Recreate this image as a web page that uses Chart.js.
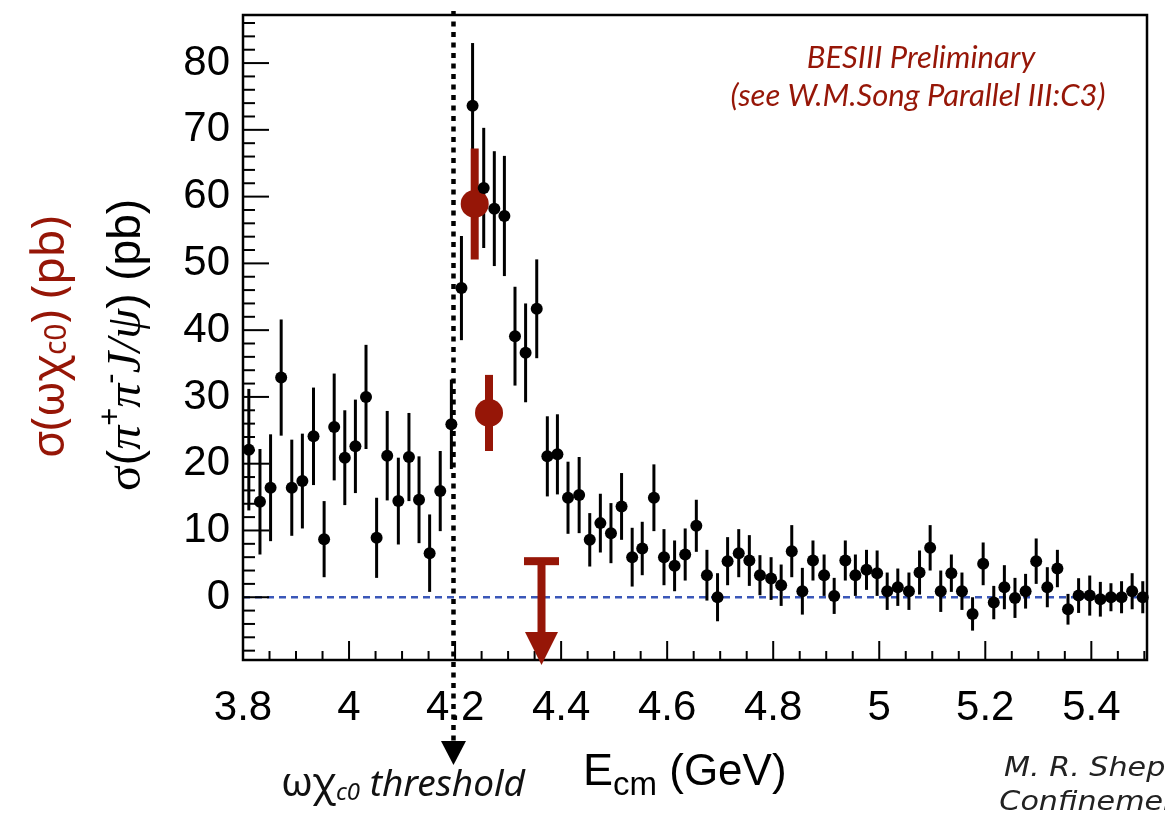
<!DOCTYPE html>
<html>
<head>
<meta charset="utf-8">
<script src="https://cdn.jsdelivr.net/npm/chart.js@4.4.1/dist/chart.umd.min.js"></script>
<style>
  html, body { margin: 0; padding: 0; background: #fff; }
  #wrap { width: 1165px; height: 816px; }
</style>
</head>
<body>
<div id="wrap"><canvas id="chart-xsec" width="1165" height="816"></canvas></div>
<script>
// sigma(e+e- -> pi+ pi- J/psi)
const energy = [3.811, 3.832, 3.852, 3.872, 3.892, 3.912, 3.933, 3.953, 3.972, 3.992,
  4.012, 4.032, 4.052, 4.072, 4.093, 4.113, 4.132, 4.152, 4.172, 4.193,
  4.212, 4.233, 4.254, 4.274, 4.293, 4.313, 4.333, 4.354, 4.374, 4.393,
  4.413, 4.434, 4.454, 4.474, 4.494, 4.514, 4.534, 4.553, 4.575, 4.594,
  4.614, 4.634, 4.655, 4.675, 4.695, 4.714, 4.735, 4.755, 4.775, 4.796,
  4.815, 4.835, 4.855, 4.875, 4.896, 4.915, 4.936, 4.955, 4.976, 4.996,
  5.015, 5.035, 5.056, 5.076, 5.096, 5.116, 5.136, 5.156, 5.176, 5.196,
  5.216, 5.236, 5.256, 5.276, 5.296, 5.317, 5.336, 5.356, 5.376, 5.397,
  5.417, 5.437, 5.457, 5.477, 5.497];
const sigmaPiPiJpsi = [22.1, 14.3, 16.4, 32.9, 16.4, 17.4, 24.1, 8.7, 25.5, 20.9,
  22.6, 30.0, 8.9, 21.2, 14.4, 21.0, 14.6, 6.6, 15.9, 25.9,
  46.3, 73.6, 61.3, 58.2, 57.1, 39.1, 36.6, 43.2, 21.1, 21.4,
  14.9, 15.3, 8.6, 11.1, 9.6, 13.6, 6.0, 7.3, 14.9, 6.0,
  4.7, 6.4, 10.7, 3.3, 0.0, 5.4, 6.6, 5.5, 3.3, 2.8,
  1.8, 6.9, 0.9, 5.5, 3.3, 0.2, 5.5, 3.3, 4.1, 3.6,
  0.9, 1.5, 0.9, 3.7, 7.4, 0.9, 3.6, 0.9, -2.5, 5.0,
  -0.8, 1.5, -0.1, 0.9, 5.4, 1.5, 4.3, -1.8, 0.25, 0.25,
  -0.3, 0.0, 0.0, 0.9, 0.0];
const sigmaPiPiJpsiErr = [9.1, 7.9, 8.0, 8.7, 7.2, 7.1, 7.3, 5.7, 8.0, 7.1,
  7.0, 7.8, 6.0, 6.7, 6.5, 6.6, 6.5, 5.8, 6.0, 6.7,
  7.8, 9.4, 9.0, 8.6, 9.0, 7.4, 7.4, 7.4, 6.0, 6.0,
  5.4, 5.7, 4.0, 4.4, 4.5, 5.0, 4.4, 4.0, 5.0, 4.2,
  3.8, 3.9, 3.9, 3.8, 3.6, 3.6, 3.6, 3.8, 3.0, 3.2,
  3.1, 3.9, 3.5, 3.0, 3.1, 2.7, 3.0, 3.1, 3.0, 3.4,
  2.8, 2.8, 2.8, 3.3, 3.4, 3.1, 2.8, 2.8, 2.5, 3.2,
  2.5, 3.3, 3.0, 2.6, 3.4, 3.0, 2.8, 2.3, 2.6, 3.0,
  2.6, 2.1, 2.4, 2.7, 2.4];

// sigma(omega chi_c0)
const omegaChiEnergy = [4.237, 4.264];
const omegaChiSigma = [58.9, 27.6];
const omegaChiErr = [8.3, 5.7];
const omegaChiLimitEnergy = 4.363;
const omegaChiLimit = 5.4;

const thresholdEnergy = 4.197;
const xTickValues = [3.8, 4, 4.2, 4.4, 4.6, 4.8, 5, 5.2, 5.4];
const yTickValues = [0, 10, 20, 30, 40, 50, 60, 70, 80];

const RED = '#961607';

const toPoints = (xs, ys) => xs.map((x, i) => ({ x: x, y: ys[i] }));

// vertical error bars
const errorBars = {
  id: 'errorBars',
  beforeDatasetsDraw(chart) {
    const ctx = chart.ctx;
    const y = chart.scales.y;
    chart.data.datasets.forEach((ds, i) => {
      if (!ds.errors) return;
      const meta = chart.getDatasetMeta(i);
      ctx.save();
      ctx.strokeStyle = ds.backgroundColor;
      ctx.lineWidth = ds.errorWidth;
      meta.data.forEach((pt, j) => {
        const v = ds.data[j].y, e = ds.errors[j];
        ctx.beginPath();
        ctx.moveTo(pt.x, y.getPixelForValue(v - e));
        ctx.lineTo(pt.x, y.getPixelForValue(v + e));
        ctx.stroke();
      });
      ctx.restore();
    });
  }
};

// ROOT style frame, inward ticks, zero line and threshold marker
const frame = {
  id: 'frame',
  beforeDatasetsDraw(chart) {
    const ctx = chart.ctx;
    const a = chart.chartArea;
    const x = chart.scales.x, y = chart.scales.y;
    ctx.save();
    // zero line
    ctx.strokeStyle = '#3a57b8';
    ctx.lineWidth = 2.5;
    ctx.setLineDash([7, 5]);
    ctx.beginPath();
    ctx.moveTo(a.left, y.getPixelForValue(0));
    ctx.lineTo(a.right, y.getPixelForValue(0));
    ctx.stroke();
    ctx.setLineDash([]);

    ctx.strokeStyle = '#000';
    ctx.lineWidth = 2;
    for (let i = 0; ; i++) {
      const v = 3.8 + i * 0.05;
      if (v > x.max) break;
      const px = x.getPixelForValue(v);
      const len = i % 4 === 0 ? 19 : 9;
      ctx.beginPath();
      ctx.moveTo(px, a.bottom);
      ctx.lineTo(px, a.bottom - len);
      ctx.stroke();
    }
    for (let v = -8; v <= y.max; v += 2) {
      const py = y.getPixelForValue(v);
      const len = v % 10 === 0 ? 26 : 12;
      ctx.beginPath();
      ctx.moveTo(a.left, py);
      ctx.lineTo(a.left + len, py);
      ctx.stroke();
    }
    ctx.lineWidth = 2.5;
    ctx.strokeRect(a.left, a.top, a.right - a.left, a.bottom - a.top);

    // threshold marker
    const tx = x.getPixelForValue(thresholdEnergy);
    ctx.lineWidth = 4.5;
    ctx.setLineDash([5, 5.5]);
    ctx.beginPath();
    ctx.moveTo(tx, 11);
    ctx.lineTo(tx, 742);
    ctx.stroke();
    ctx.setLineDash([]);
    ctx.fillStyle = '#000';
    ctx.beginPath();
    ctx.moveTo(tx - 12.5, 741);
    ctx.lineTo(tx + 12.5, 741);
    ctx.lineTo(tx, 765);
    ctx.closePath();
    ctx.fill();
    ctx.restore();
  },
  afterDatasetsDraw(chart) {
    // upper limit for omega chi_c0
    const ctx = chart.ctx;
    const a = chart.chartArea;
    const px = chart.scales.x.getPixelForValue(omegaChiLimitEnergy);
    const py = chart.scales.y.getPixelForValue(omegaChiLimit);
    const tip = a.bottom + 5;
    ctx.save();
    ctx.fillStyle = RED;
    ctx.fillRect(px - 17.5, py - 4, 35, 8);
    ctx.fillRect(px - 4, py, 8, tip - 32 - py);
    ctx.beginPath();
    ctx.moveTo(px - 16.5, tip - 33);
    ctx.lineTo(px + 16.5, tip - 33);
    ctx.lineTo(px, tip);
    ctx.closePath();
    ctx.fill();
    ctx.restore();
  }
};

function drawRich(ctx, parts, x, y, align) {
  let w = 0;
  parts.forEach(p => { ctx.font = p.font; p.w = ctx.measureText(p.t).width; w += p.w; });
  let cx = align === 'center' ? x - w / 2 : x;
  parts.forEach(p => {
    ctx.font = p.font;
    ctx.fillText(p.t, cx, y + (p.dy || 0));
    cx += p.w;
  });
}

const labels = {
  id: 'labels',
  afterDraw(chart) {
    const ctx = chart.ctx;
    ctx.save();
    ctx.textBaseline = 'alphabetic';
    ctx.textAlign = 'left';

    // x title
    ctx.fillStyle = '#000';
    drawRich(ctx, [
      { t: 'E', font: '45px "Liberation Sans"' },
      { t: 'cm', font: '33px "Liberation Sans"', dy: 10 },
      { t: ' (GeV)', font: '44px "Liberation Sans"' }
    ], 583, 785, 'left');

    // threshold label
    ctx.fillStyle = '#111';
    drawRich(ctx, [
      { t: 'ωχ', font: '40px "Noto Sans"' },
      { t: 'c0', font: 'italic 24px "Noto Sans"', dy: 4 },
      { t: ' threshold', font: 'italic 37px "Noto Sans"' }
    ], 281, 796, 'left');

    // preliminary note
    ctx.fillStyle = RED;
    ctx.textAlign = 'center';
    ctx.font = 'italic 31px Lato';
    ctx.fillText('BESIII Preliminary', 921, 68);
    ctx.fillText('(see W.M.Song Parallel III:C3)', 918, 106);

    // footer
    ctx.textAlign = 'left';
    ctx.fillStyle = '#222';
    ctx.font = 'italic 26px "DejaVu Sans"';
    ctx.save();
    ctx.translate(1004, 0);
    ctx.scale(1.16, 1);
    ctx.fillText('M. R. Shepherd', 0, 776);
    ctx.fillText('Confinement XI', -4, 810);
    ctx.restore();

    // y titles
    ctx.save();
    ctx.translate(64, 337);
    ctx.rotate(-Math.PI / 2);
    ctx.fillStyle = RED;
    drawRich(ctx, [
      { t: 'σ(ωχ', font: '45px "Noto Sans"' },
      { t: 'c0', font: '30px "Noto Sans"', dy: 2 },
      { t: ') (pb)', font: '45px "Noto Sans"' }
    ], 0, 0, 'center');
    ctx.restore();

    ctx.save();
    ctx.translate(140, 345);
    ctx.rotate(-Math.PI / 2);
    ctx.fillStyle = '#000';
    drawRich(ctx, [
      { t: 'σ', font: '48px "Liberation Serif"' },
      { t: '(', font: '46px "Liberation Sans"' },
      { t: 'π', font: 'italic 48px "Liberation Serif"' },
      { t: '+', font: '31px "Liberation Sans"', dy: -20 },
      { t: 'π', font: 'italic 48px "Liberation Serif"' },
      { t: '-', font: '31px "Liberation Sans"', dy: -20 },
      { t: 'J/ψ', font: 'italic 48px "Liberation Serif"' },
      { t: ') (pb)', font: '46px "Liberation Sans"' }
    ], 0, 0, 'center');
    ctx.restore();

    ctx.restore();
  }
};

const ctx_xsec = document.getElementById('chart-xsec');

new Chart(ctx_xsec, {
  type: 'scatter',
  data: {
    datasets: [
      {
        label: 'pi+ pi- J/psi',
        data: toPoints(energy, sigmaPiPiJpsi),
        errors: sigmaPiPiJpsiErr,
        errorWidth: 3,
        backgroundColor: '#000',
        borderWidth: 0,
        pointRadius: 6,
        clip: false
      },
      {
        label: 'omega chi_c0',
        data: toPoints(omegaChiEnergy, omegaChiSigma),
        errors: omegaChiErr,
        errorWidth: 8,
        backgroundColor: RED,
        borderWidth: 0,
        pointRadius: 14,
        clip: false
      }
    ]
  },
  options: {
    responsive: false,
    animation: false,
    events: [],
    layout: { padding: { top: 15, right: 18, left: 0, bottom: 0 } },
    plugins: { legend: { display: false }, tooltip: { enabled: false } },
    scales: {
      x: {
        type: 'linear',
        min: 3.8,
        max: 5.505,
        grid: { display: false, drawTicks: false },
        border: { display: false },
        afterBuildTicks: s => { s.ticks = xTickValues.map(v => ({ value: v })); },
        afterFit: s => { s.height = 156; s.paddingLeft = 0; s.paddingRight = 0; },
        ticks: {
          padding: 23,
          maxRotation: 0,
          autoSkip: false,
          color: '#000',
          font: { family: '"Liberation Sans"', size: 42 },
          callback: v => String(v)
        }
      },
      y: {
        type: 'linear',
        min: -9.4,
        max: 87.2,
        grid: { display: false, drawTicks: false },
        border: { display: false },
        afterBuildTicks: s => { s.ticks = yTickValues.map(v => ({ value: v })); },
        afterFit: s => { s.width = 243; s.paddingTop = 0; s.paddingBottom = 0; },
        ticks: {
          padding: 13,
          autoSkip: false,
          color: '#000',
          font: { family: '"Liberation Sans"', size: 42 },
          callback: v => String(v)
        }
      }
    }
  },
  plugins: [frame, errorBars, labels]
});
</script>
</body>
</html>
